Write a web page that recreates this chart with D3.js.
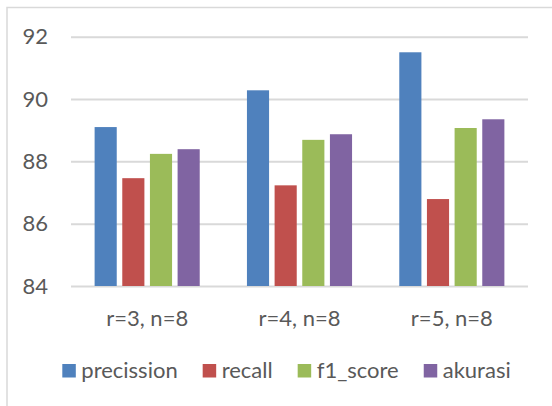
<!DOCTYPE html>
<html>
<head>
<meta charset="utf-8">
<script src="https://cdn.jsdelivr.net/npm/d3@7"></script>
<style>
  html, body { margin: 0; padding: 0; background: #fff; }
  svg { display: block; }
  text { font-family: Lato, "Open Sans", sans-serif; fill: #595959; }
</style>
</head>
<body>
<svg id="chart" width="552" height="406"></svg>
<script>
// Scores per configuration
const categories = ["r=3, n=8", "r=4, n=8", "r=5, n=8"];
const seriesNames = ["precission", "recall", "f1_score", "akurasi"];
const precission = [89.10, 90.28, 91.50];
const recall     = [87.46, 87.23, 86.79];
const f1_score   = [88.24, 88.69, 89.07];
const akurasi    = [88.39, 88.87, 89.35];
const yTicks = [84, 86, 88, 90, 92];
const colors = ["#4f81bd", "#c0504d", "#9bbb59", "#8064a2"];

const seriesValues = [precission, recall, f1_score, akurasi];

const svg = d3.select("#chart");
const plot = { left: 71, right: 528, top: 36.7, bottom: 286 };
const fontSize = 22;

// Chart frame
svg.append("rect")
  .attr("x", 7).attr("y", 7.5)
  .attr("width", 560).attr("height", 420)
  .attr("fill", "#fff")
  .attr("stroke", "#d9d9d9").attr("stroke-width", 1.5);

const y = d3.scaleLinear().domain([84, 92]).range([plot.bottom, plot.top]);
const x0 = d3.scaleBand().domain(categories)
  .range([plot.left, plot.right]).paddingInner(0.31).paddingOuter(0.155);
const x1 = d3.scaleBand().domain(seriesNames)
  .range([0, x0.bandwidth()]).paddingInner(0.2).paddingOuter(0);

// Y axis with gridlines
const yAxis = svg.append("g")
  .attr("transform", `translate(${plot.left},0)`)
  .call(d3.axisLeft(y).tickValues(yTicks).tickFormat(d3.format("d"))
    .tickSize(-(plot.right - plot.left)).tickPadding(23));
yAxis.select(".domain").remove();
yAxis.selectAll(".tick line").attr("stroke", "#d9d9d9").attr("stroke-width", 2);
yAxis.selectAll(".tick text")
  .attr("font-size", fontSize).style("font-family", "Lato, sans-serif")
  .attr("fill", "#595959");

// Bars
const groups = svg.append("g").selectAll("g")
  .data(categories)
  .join("g")
  .attr("transform", d => `translate(${x0(d)},0)`);

groups.selectAll("rect")
  .data((c, i) => seriesNames.map((s, j) => ({ s, v: seriesValues[j][i], color: colors[j] })))
  .join("rect")
  .attr("x", d => x1(d.s))
  .attr("width", x1.bandwidth())
  .attr("y", d => y(d.v))
  .attr("height", d => y(84) - y(d.v))
  .attr("fill", d => d.color);

// Category labels
const xAxis = svg.append("g")
  .attr("transform", `translate(0,${plot.bottom})`)
  .call(d3.axisBottom(x0).tickSize(0).tickPadding(24));
xAxis.select(".domain").remove();
xAxis.selectAll(".tick text")
  .attr("font-size", fontSize).style("font-family", "Lato, sans-serif")
  .attr("fill", "#595959");

// Legend
const legend = svg.append("g");
const items = legend.selectAll("g").data(seriesNames).join("g");
items.append("rect")
  .attr("width", 13.5).attr("height", 13.5)
  .attr("y", -14)
  .attr("fill", (d, i) => colors[i]);
items.append("text")
  .attr("x", 19).attr("y", 0)
  .attr("font-size", fontSize)
  .text(d => d);

let cx = 0;
items.each(function () {
  const g = d3.select(this);
  g.attr("transform", `translate(${cx},0)`);
  cx += 19 + g.select("text").node().getComputedTextLength() + 25;
});
const legendWidth = cx - 25;
legend.attr("transform", `translate(${286.5 - legendWidth / 2},378)`);
</script>
</body>
</html>
